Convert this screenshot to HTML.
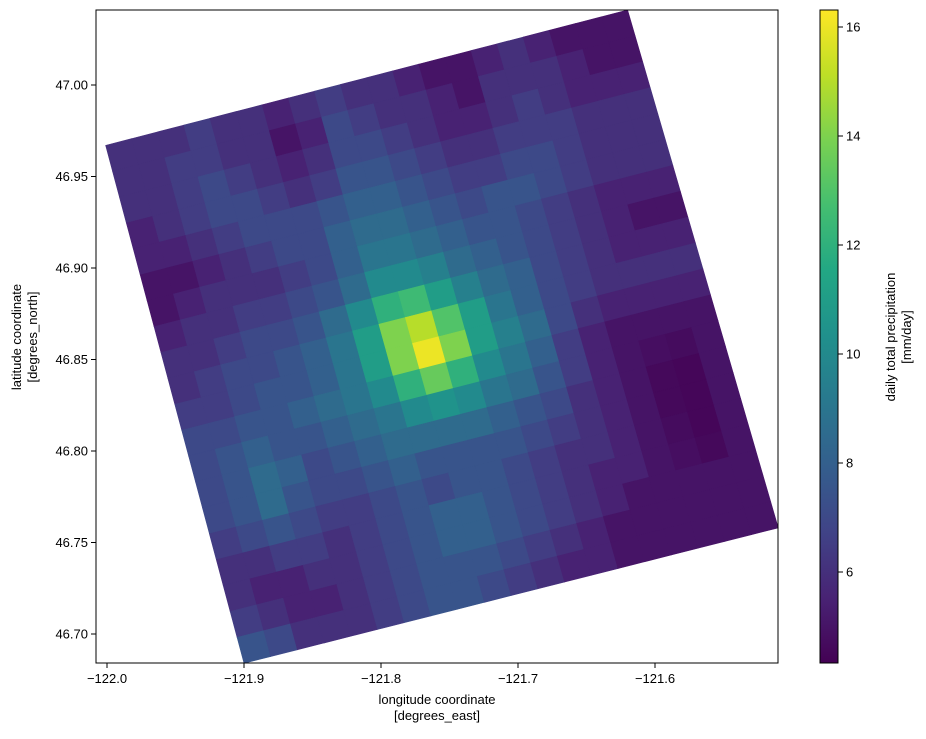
<!DOCTYPE html>
<html><head><meta charset="utf-8"><style>
body{margin:0;background:#fff;}
svg text{font-family:"Liberation Sans",sans-serif;font-size:13px;fill:#000;}
</style></head><body>
<svg id="chart" width="926" height="734" viewBox="0 0 926 734" xmlns="http://www.w3.org/2000/svg">
<g id="mesh"></g>
<rect x="96" y="10" width="682" height="653" fill="none" stroke="#000" stroke-width="1"/>
<g id="xt"></g>
<g id="yt"></g>
<text x="437" y="704" text-anchor="middle">longitude coordinate</text>
<text x="437" y="720" text-anchor="middle">[degrees_east]</text>
<text transform="translate(21,337) rotate(-90)" text-anchor="middle">latitude coordinate</text>
<text transform="translate(37,337) rotate(-90)" text-anchor="middle">[degrees_north]</text>
<defs><linearGradient id="cbg" x1="0" y1="1" x2="0" y2="0"></linearGradient></defs>
<rect x="820" y="10" width="18" height="653" fill="url(#cbg)" stroke="#000" stroke-width="1"/>
<g id="ct"></g>
<text transform="translate(895,337) rotate(-90)" text-anchor="middle">daily total precipitation</text>
<text transform="translate(911,337) rotate(-90)" text-anchor="middle">[mm/day]</text>
</svg>
<script>
const xTicks=[-122.0,-121.9,-121.8,-121.7,-121.6];
const xTickLabels=["\u2212122.0","\u2212121.9","\u2212121.8","\u2212121.7","\u2212121.6"];
const yTicks=[47.00,46.95,46.90,46.85,46.80,46.75,46.70];
const yTickLabels=["47.00","46.95","46.90","46.85","46.80","46.75","46.70"];
const cTicks=[6,8,10,12,14,16];
const cMin=4.33, cMax=16.31;
const cornerLon=[-122.001,-121.620,-121.900,-121.510]; // TL,TR,BL,BR
const cornerLat=[46.967,47.041,46.684,46.758];
const precip=[
[6,6,6,6.5,6,6,5.5,6,6.5,6,6,5.5,5,5,5.5,6,5.5,5,5,5],
[6,6,6.5,6.5,6,6,5,5.5,7,6.5,6,6,5.5,5,6,6,6,5.5,5,5],
[6,6,6.5,7,6.5,6,5.5,6,7,7,6.5,6,5.5,5.5,6,6.5,6,5.5,5.5,5.5],
[5.5,6,6.5,7,7,6.5,6,6.5,7.5,7.5,7,6.5,6,6,6.5,6.5,6.5,6,6,6],
[5.5,5.5,6,6.5,7,7,7,7.5,8,8,7.5,7,6.5,6.5,7,7,6.5,6,6,6],
[5,5,5.5,6,6.5,7,7,8,8.5,8.5,8,7.5,7,7.5,7.5,7,6.5,6,6,6],
[5,5.5,6,6,6,6.5,7,8,9,9,8.5,8,7.5,7.5,7,6.5,6,5.5,5.5,5.5],
[5.5,6,6,6.5,6.5,7,7.5,8.5,10,10,9.5,8.5,8,7.5,7,6.5,6,5.5,5,5],
[6,6,6.5,7,7,7.5,8.5,10,12,12.5,11,9.5,8.5,8,7,6.5,6,5.5,5.5,5.5],
[6,6.5,7,7,7.5,8,9,11,14,15,13,11,9,8,7,6.5,6,6,6,6],
[6.5,6.5,7,7.5,7.5,8,9,11,14,16,14,11,9.5,8.5,7,6,5.5,5.5,5.5,5.5],
[7,7,7.5,7.5,8,8.5,9,10,12,13.5,12,10,9,8,6.5,5.5,5,5,5,5],
[7,7.5,8,7.5,7.5,8,8.5,9,10,10.5,10,9,8.5,7.5,6.5,5.5,5,4.8,4.7,5],
[7,7.5,8.5,8,7,7.5,8,8.5,8.5,8.5,8.5,8,7.5,7,6,5.5,5,4.6,4.5,5],
[7,7.5,8.5,7.5,7,7,7.5,8,7.5,7.5,7.5,7.5,7,6.5,6,5.5,5,4.6,4.5,5],
[6.5,7,7.5,7,6.5,6.5,7,7.5,7,7.5,7.5,7,6.5,6,6,5.5,5,4.7,4.5,5],
[6,6,6.5,6.5,6,6.5,7,7.5,8,8,7.5,7,6.5,6,5.5,5.5,5,4.8,4.6,5],
[6,5.5,5.5,6,6,6.5,7,7.5,8,8,7.5,7,6.5,6,5.5,5,5,5,5,5],
[6.5,6,5.5,5.5,6,6.5,7,7.5,7.5,7.5,7,6.5,6,5.5,5,5,5,5,5,5],
[7.5,7,6,6,6,6.5,7,7.5,7.5,7,6.5,6,5.5,5.5,5,5,5,5,5,5]
];
const NS="http://www.w3.org/2000/svg";
const xs=lon=>107+(lon+122)*1370;
const ys=lat=>85+(47-lat)*1830;
const cs=v=>572-(v-6)*54.5;
const vir=[[68,1,84],[72,35,116],[64,67,135],[52,94,141],[41,120,142],[32,144,140],[34,167,132],[68,190,112],[121,209,81],[189,222,38],[253,231,37]];
function color(v){let t=Math.max(0,Math.min(1,(v-cMin)/(cMax-cMin)))*(vir.length-1);let i=Math.min(Math.floor(t),vir.length-2),f=t-i;const c=vir[i].map((a,k)=>Math.round(a+(vir[i+1][k]-a)*f));return `rgb(${c[0]},${c[1]},${c[2]})`;}
function pt(u,v){const lon=(1-u)*(1-v)*cornerLon[0]+u*(1-v)*cornerLon[1]+(1-u)*v*cornerLon[2]+u*v*cornerLon[3];const lat=(1-u)*(1-v)*cornerLat[0]+u*(1-v)*cornerLat[1]+(1-u)*v*cornerLat[2]+u*v*cornerLat[3];return [xs(lon),ys(lat)];}
const mesh=document.getElementById('mesh');
const R=precip.length,C=precip[0].length;
for(let j=0;j<R;j++)for(let i=0;i<C;i++){
 const p=[pt(i/C,j/R),pt((i+1)/C,j/R),pt((i+1)/C,(j+1)/R),pt(i/C,(j+1)/R)];
 const el=document.createElementNS(NS,'polygon');
 el.setAttribute('points',p.map(q=>q.join(',')).join(' '));
 el.setAttribute('fill',color(precip[j][i]));el.setAttribute('stroke',color(precip[j][i]));el.setAttribute('stroke-width','0.6');
 
 
 mesh.appendChild(el);}
function add(g,tag,attrs,txt){const e=document.createElementNS(NS,tag);for(const k in attrs)e.setAttribute(k,attrs[k]);if(txt!==undefined)e.textContent=txt;g.appendChild(e);return e;}
const xt=document.getElementById('xt');
xTicks.forEach((t,k)=>{const x=xs(t);
 const l=add(xt,'line',{x1:x,x2:x,y1:663,y2:668,stroke:'#000'});
 
 
 const tx=add(xt,'text',{x:x,y:683,'text-anchor':'middle'},xTickLabels[k]);
 
 });
const yt=document.getElementById('yt');
yTicks.forEach((t,k)=>{const y=ys(t);
 const l=add(yt,'line',{x1:91,x2:96,y1:y,y2:y,stroke:'#000'});
 
 
 const tx=add(yt,'text',{x:88,y:y+4.5,'text-anchor':'end'},yTickLabels[k]);
 
 });
const g=document.getElementById('cbg');
for(let k=0;k<vir.length;k++){add(g,'stop',{offset:k/(vir.length-1),'stop-color':`rgb(${vir[k].join(',')})`});}
const ct=document.getElementById('ct');
cTicks.forEach(t=>{const y=cs(t);
 const l=add(ct,'line',{x1:838,x2:843,y1:y,y2:y,stroke:'#000'});
 
 
 const tx=add(ct,'text',{x:846,y:y+4.5},String(t));
 
 });
</script>
</body></html>
